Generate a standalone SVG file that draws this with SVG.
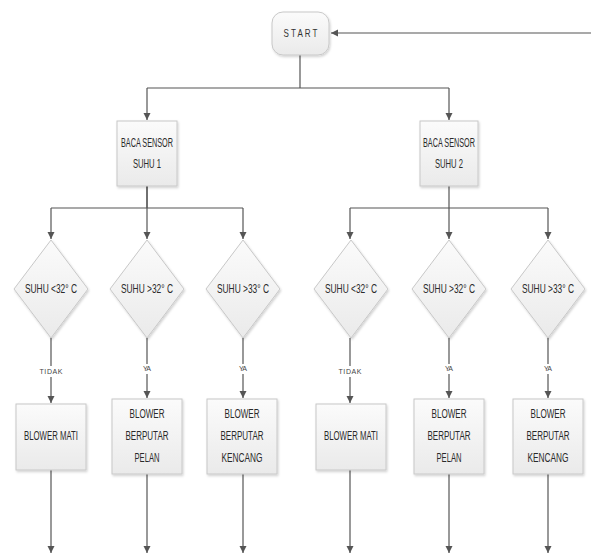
<svg xmlns="http://www.w3.org/2000/svg" width="591" height="554" viewBox="0 0 591 554">
<style>
.shape{fill:url(#g);stroke:#c8c8c8;stroke-width:1;filter:url(#sh)}
.t{font-family:"Liberation Sans",sans-serif;font-size:12px;fill:#2a2a2a;text-anchor:middle;dominant-baseline:middle}
.s{font-family:"Liberation Sans",sans-serif;font-size:7px;fill:#444;text-anchor:middle;dominant-baseline:middle}
.c{fill:none;stroke:#555;stroke-width:1.2}
.a{marker-end:url(#ah)}
</style>
<defs>
<linearGradient id="g" x1="0" y1="0" x2="0" y2="1"><stop offset="0" stop-color="#fbfbfb"/><stop offset="1" stop-color="#eaeaea"/></linearGradient>
<filter id="sh" x="-20%" y="-20%" width="140%" height="140%"><feDropShadow dx="1" dy="1.5" stdDeviation="1" flood-color="#000" flood-opacity="0.18"/></filter>
<marker id="ah" markerWidth="8" markerHeight="8" refX="7" refY="4" orient="auto" markerUnits="userSpaceOnUse"><path d="M0,0.5 L7,4 L0,7.5 Z" fill="#555"/></marker>
</defs>
<rect width="591" height="554" fill="#fff"/>
<g id="connectors">
<path class="c a" d="M591,33 H331"/>
<path class="c" d="M300,55 V88 M147,88 H449"/>
<path class="c a" d="M147,88 V120"/>
<path class="c a" d="M449,88 V120"/>
<path class="c" d="M147,186 V208 M51,208 H243"/>
<path class="c a" d="M51,208 V239"/>
<path class="c a" d="M147,186 V239"/>
<path class="c a" d="M243,208 V239"/>
<path class="c" d="M449,186 V208 M350,208 H548"/>
<path class="c a" d="M350,208 V239"/>
<path class="c a" d="M449,208 V239"/>
<path class="c a" d="M548,208 V239"/>
<path class="c" d="M51,338 V366 M147,338 V364 M243,338 V364 M350,338 V366 M449,338 V364 M548,338 V364"/>
<path class="c a" d="M51,377 V403"/>
<path class="c a" d="M147,374 V398"/>
<path class="c a" d="M243,374 V398"/>
<path class="c a" d="M350,377 V403"/>
<path class="c a" d="M449,374 V398"/>
<path class="c a" d="M548,374 V398"/>
<path class="c a" d="M51,470 V553"/>
<path class="c a" d="M147,474 V553"/>
<path class="c a" d="M243,474 V553"/>
<path class="c a" d="M350,470 V553"/>
<path class="c a" d="M449,474 V553"/>
<path class="c a" d="M548,474 V553"/>
<text class="s" x="51" y="372" textLength="23" lengthAdjust="spacing">TIDAK</text>
<text class="s" x="147" y="369" textLength="8" lengthAdjust="spacing">YA</text>
<text class="s" x="243" y="369" textLength="8" lengthAdjust="spacing">YA</text>
<text class="s" x="350" y="372" textLength="23" lengthAdjust="spacing">TIDAK</text>
<text class="s" x="449" y="369" textLength="8" lengthAdjust="spacing">YA</text>
<text class="s" x="548" y="369" textLength="8" lengthAdjust="spacing">YA</text>
</g>
<g id="start"><rect class="shape" x="272" y="12" width="57" height="43" rx="11"/><text class="t" x="300.5" y="34" style="font-size:11px;fill:#333" textLength="34" lengthAdjust="spacingAndGlyphs">S T A R T</text></g>
<g id="sensor1"><rect class="shape" x="117" y="121" width="60" height="65"/><text class="t" x="147" y="144" textLength="52" lengthAdjust="spacingAndGlyphs">BACA SENSOR</text><text class="t" x="147" y="165" textLength="28" lengthAdjust="spacingAndGlyphs">SUHU 1</text></g>
<g id="sensor2"><rect class="shape" x="420" y="121" width="58" height="65"/><text class="t" x="449" y="144" textLength="52" lengthAdjust="spacingAndGlyphs">BACA SENSOR</text><text class="t" x="449" y="165" textLength="28" lengthAdjust="spacingAndGlyphs">SUHU 2</text></g>
<g id="d1"><path class="shape" d="M51,240 L88,289 L51,338 L14,289 Z"/><text class="t" transform="translate(51,290) scale(0.7,1)">SUHU &lt;32° C</text></g>
<g id="d2"><path class="shape" d="M147,240 L184,289 L147,338 L110,289 Z"/><text class="t" transform="translate(147,290) scale(0.7,1)">SUHU &gt;32° C</text></g>
<g id="d3"><path class="shape" d="M243,240 L280,289 L243,338 L206,289 Z"/><text class="t" transform="translate(243,290) scale(0.7,1)">SUHU &gt;33° C</text></g>
<g id="d4"><path class="shape" d="M351,240 L388,289 L351,338 L314,289 Z"/><text class="t" transform="translate(351,290) scale(0.7,1)">SUHU &lt;32° C</text></g>
<g id="d5"><path class="shape" d="M449,240 L486,289 L449,338 L412,289 Z"/><text class="t" transform="translate(449,290) scale(0.7,1)">SUHU &gt;32° C</text></g>
<g id="d6"><path class="shape" d="M548,240 L585,289 L548,338 L511,289 Z"/><text class="t" transform="translate(548,290) scale(0.7,1)">SUHU &gt;33° C</text></g>
<g id="b1"><rect class="shape" x="16" y="404" width="70" height="66"/><text class="t" x="51" y="437" textLength="54" lengthAdjust="spacingAndGlyphs">BLOWER MATI</text></g>
<g id="b2"><rect class="shape" x="112" y="399" width="70" height="75"/><text class="t" x="147" y="415" textLength="35" lengthAdjust="spacingAndGlyphs">BLOWER</text><text class="t" x="147" y="437" textLength="43" lengthAdjust="spacingAndGlyphs">BERPUTAR</text><text class="t" x="147" y="459" textLength="25" lengthAdjust="spacingAndGlyphs">PELAN</text></g>
<g id="b3"><rect class="shape" x="207" y="399" width="70" height="75"/><text class="t" x="242" y="415" textLength="35" lengthAdjust="spacingAndGlyphs">BLOWER</text><text class="t" x="242" y="437" textLength="43" lengthAdjust="spacingAndGlyphs">BERPUTAR</text><text class="t" x="242" y="459" textLength="41" lengthAdjust="spacingAndGlyphs">KENCANG</text></g>
<g id="b4"><rect class="shape" x="316" y="404" width="70" height="66"/><text class="t" x="351" y="437" textLength="54" lengthAdjust="spacingAndGlyphs">BLOWER MATI</text></g>
<g id="b5"><rect class="shape" x="414" y="399" width="70" height="75"/><text class="t" x="449" y="415" textLength="35" lengthAdjust="spacingAndGlyphs">BLOWER</text><text class="t" x="449" y="437" textLength="43" lengthAdjust="spacingAndGlyphs">BERPUTAR</text><text class="t" x="449" y="459" textLength="25" lengthAdjust="spacingAndGlyphs">PELAN</text></g>
<g id="b6"><rect class="shape" x="513" y="399" width="70" height="75"/><text class="t" x="548" y="415" textLength="35" lengthAdjust="spacingAndGlyphs">BLOWER</text><text class="t" x="548" y="437" textLength="43" lengthAdjust="spacingAndGlyphs">BERPUTAR</text><text class="t" x="548" y="459" textLength="41" lengthAdjust="spacingAndGlyphs">KENCANG</text></g>
</svg>
